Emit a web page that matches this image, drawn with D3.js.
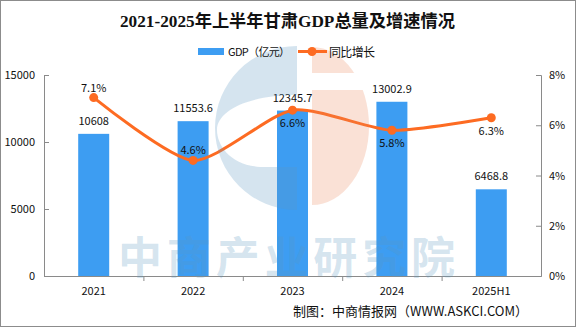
<!DOCTYPE html>
<html><head><meta charset="utf-8">
<script src="https://cdn.jsdelivr.net/npm/d3@7"></script>
<style>body{margin:0;background:#fff}svg{display:block}</style>
</head><body>
<svg id="c" width="576" height="327"></svg>
<script>
const categories = ["2021","2022","2023","2024","2025H1"];
const gdpValues = [10608, 11553.6, 12345.7, 13002.9, 6468.8];
const gdpLabels = ["10608","11553.6","12345.7","13002.9","6468.8"];
const growthValues = [7.1, 4.6, 6.6, 5.8, 6.3];
const growthLabels = ["7.1%","4.6%","6.6%","5.8%","6.3%"];
const growthLabelPos = ["above","above","below","below","below"];
const leftTicks = [0, 5000, 10000, 15000];
const rightTicks = [0, 2, 4, 6, 8];

const svg = d3.select("#c");
const font = "'Noto Sans CJK SC','DejaVu Sans',sans-serif";
const W = 576, H = 327;
const m = {l:44, r:541, t:75, b:276};
const barColor = "#3d9df2", lineColor = "#fd6b22", axisColor = "#8a8a8a";

// border
svg.append("rect").attr("x",0.5).attr("y",0.5).attr("width",W-1).attr("height",H-1)
  .attr("fill","#fff").attr("stroke","#8c8c8c");

// scales
const xc = d3.scaleBand().domain(categories).range([m.l, m.r]);
const yL = d3.scaleLinear().domain([0,15000]).range([m.b, m.t]);
const yR = d3.scaleLinear().domain([0,8]).range([m.b, m.t]);

// bars
svg.append("g").selectAll("rect").data(categories).join("rect")
  .attr("x", d => xc(d) + xc.bandwidth()/2 - 15.5)
  .attr("width", 31)
  .attr("y", (d,i) => yL(gdpValues[i]))
  .attr("height", (d,i) => m.b - yL(gdpValues[i]))
  .attr("fill", barColor);

// axes
const axL = svg.append("g").attr("transform",`translate(${m.l},0)`)
  .call(d3.axisLeft(yL).tickValues(leftTicks).tickSize(-5).tickPadding(9).tickFormat(d3.format("d")));
const axR = svg.append("g").attr("transform",`translate(${m.r},0)`)
  .call(d3.axisRight(yR).tickValues(rightTicks).tickSize(-5).tickPadding(8).tickFormat(d => d + "%"));
const axB = svg.append("g").attr("transform",`translate(0,${m.b})`)
  .call(d3.axisBottom(xc).tickSize(0).tickPadding(11));
// boundary ticks on the category axis
axB.selectAll(".bnd").data(categories.slice(1)).join("line").attr("class","bnd")
  .attr("x1", d => xc(d) + 0.5).attr("x2", d => xc(d) + 0.5)
  .attr("y1", 0).attr("y2", 5).attr("stroke", axisColor);
[axL, axR, axB].forEach(a => {
  a.select(".domain").attr("stroke", axisColor);
  a.selectAll(".tick line").attr("stroke", axisColor);
  a.selectAll("text").attr("font-family", font).attr("font-size", 11).attr("fill", "#111");
});

// bar labels
svg.append("g").selectAll("text").data(categories).join("text")
  .attr("x", d => xc(d) + xc.bandwidth()/2)
  .attr("y", (d,i) => yL(gdpValues[i]) - 9)
  .attr("text-anchor","middle").attr("font-family",font).attr("font-size",11).attr("fill","#111")
  .text((d,i) => gdpLabels[i]);

// line
const pts = categories.map((d,i) => [xc(d) + xc.bandwidth()/2, yR(growthValues[i])]);
svg.append("path").attr("d", d3.line().curve(d3.curveCardinal.tension(0.3))(pts))
  .attr("fill","none").attr("stroke",lineColor).attr("stroke-width",3);
svg.append("g").selectAll("circle").data(pts).join("circle")
  .attr("cx", d => d[0]).attr("cy", d => d[1]).attr("r", 4.5).attr("fill", lineColor);
svg.append("g").selectAll("text").data(categories).join("text")
  .attr("x", (d,i) => pts[i][0])
  .attr("y", (d,i) => growthLabelPos[i] === "above" ? pts[i][1] - 6 : pts[i][1] + 17)
  .attr("text-anchor","middle").attr("font-family",font).attr("font-size",11).attr("fill","#111")
  .text((d,i) => growthLabels[i]);

// watermark overlay (semi-transparent, on top)
const wm = svg.append("g").attr("pointer-events","none");
const blueC = d3.path();
// outer left half circle
wm.append("path")
  .attr("d", "M297,46 A82,82 0 0,0 297,210 Z M297,95 L297,167 L260,167 C230,165 217,145 217,130 C217,110 250,95 297,95 Z")
  .attr("fill","#5c98c0").attr("fill-opacity",0.26).attr("fill-rule","evenodd");
wm.append("path")
  .attr("d", "M312,47 A57,79 0 0,1 312,205 Z")
  .attr("fill","#ec885c").attr("fill-opacity",0.25);
wm.append("rect").attr("x",312).attr("y",73).attr("width",60).attr("height",17).attr("fill","#fff");
wm.append("text").attr("x",118).attr("y",274)
  .attr("font-family",font).attr("font-size",44).attr("font-weight","bold")
  .attr("textLength",337).attr("lengthAdjust","spacing")
  .attr("fill","#5c98c0").attr("fill-opacity",0.26).text("中商产业研究院");

// title
svg.append("text").attr("x",120).attr("y",27)
  .attr("font-family","'Liberation Serif','Noto Sans CJK SC',serif").attr("font-weight","bold")
  .attr("font-size",17.5).attr("textLength",335).attr("lengthAdjust","spacingAndGlyphs")
  .attr("fill","#111").text("2021-2025年上半年甘肃GDP总量及增速情况");

// legend
const lg = svg.append("g");
lg.append("rect").attr("x",198).attr("y",48).attr("width",26).attr("height",7).attr("fill",barColor);
lg.append("text").attr("x",228).attr("y",56).attr("font-family",font).attr("font-size",11)
  .attr("textLength",62).attr("fill","#111").text("GDP（亿元）");
lg.append("line").attr("x1",298).attr("x2",327).attr("y1",51.5).attr("y2",51.5).attr("stroke",lineColor).attr("stroke-width",3);
lg.append("circle").attr("cx",312).attr("cy",51.5).attr("r",4.5).attr("fill",lineColor);
lg.append("text").attr("x",329).attr("y",56.5).attr("font-family",font).attr("font-size",12)
  .attr("textLength",46).attr("fill","#111").text("同比增长");

// source
svg.append("text").attr("x",528).attr("y",316).attr("text-anchor","end")
  .attr("font-family",font).attr("font-size",13).attr("fill","#111").text("制图：中商情报网（WWW.ASKCI.COM）");
</script>
</body></html>
